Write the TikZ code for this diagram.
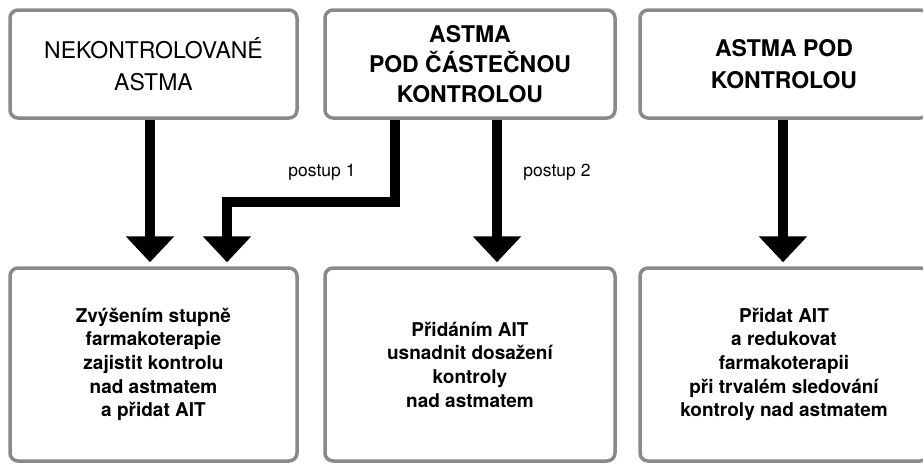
\documentclass[tikz,border=0pt]{standalone}
\usepackage{fontspec}
\setmainfont{TeX Gyre Heros}
\usetikzlibrary{arrows.meta}
\begin{document}
\begin{tikzpicture}[x=1pt,y=-1pt,
  box/.style={draw=boxgray, line width=3.5pt, rounded corners=8pt, fill=white, inner sep=0pt, align=center},
  topbox/.style={box, minimum height=108pt},
  botbox/.style={box, minimum height=193pt},
  toptxt/.style={font=\fontsize{23}{32}\selectfont},
  bottxt/.style={font=\bfseries\fontsize{19}{23.7}\selectfont},
  arr/.style={line width=10pt, line join=miter, -{Triangle[width=47pt,length=26pt]}},
  lbl/.style={font=\fontsize{17.5}{20}\selectfont, inner sep=0pt}
]
\definecolor{boxgray}{HTML}{898989}
\clip (0,0) rectangle (923,466);
\fill[white] (0,0) rectangle (923,466);

\node[topbox, minimum width=287pt, toptxt] (t1) at (153.5,64) {NEKONTROLOVANÉ\\ASTMA};
\node[topbox, minimum width=290pt, toptxt, font=\bfseries\fontsize{23}{30}\selectfont] (t2) at (470,64) {ASTMA\\POD ČÁSTEČNOU\\KONTROLOU};
\node[topbox, minimum width=288pt, toptxt, font=\bfseries\fontsize{23}{32}\selectfont] (t3) at (784,64) {ASTMA POD\\KONTROLOU};

\node[botbox, minimum width=287pt, bottxt] (b1) at (153.5,364.5) {Zvýšením stupně\\farmakoterapie\\zajistit kontrolu\\nad astmatem\\a přidat AIT};
\node[botbox, minimum width=290pt, bottxt] (b2) at (470,364.5) {Přidáním AIT\\usnadnit dosažení\\kontroly\\nad astmatem};
\node[botbox, minimum width=288pt, bottxt] (b3) at (784,364.5) {Přidat AIT\\a redukovat\\farmakoterapii\\při trvalém sledování\\kontroly nad astmatem};

\draw[arr] (t1.south -| 150,0) -- ([yshift=4pt]b1.north -| 150,0);
\coordinate (p1a) at (395,202);
\coordinate (p1b) at (227,202);
\draw[arr] (t2.south -| p1a) -- (p1a) -- (p1b) -- ([yshift=4pt]b1.north -| p1b);
\draw[arr] (t2.south -| 497,0) -- ([yshift=4pt]b2.north -| 497,0);
\draw[arr] (t3.south -| 783,0) -- ([yshift=4pt]b3.north -| 783,0);

\node[lbl] (l1) at (322,172) {postup 1};
\node[lbl] (l2) at (557,172) {postup 2};
\end{tikzpicture}
\end{document}
